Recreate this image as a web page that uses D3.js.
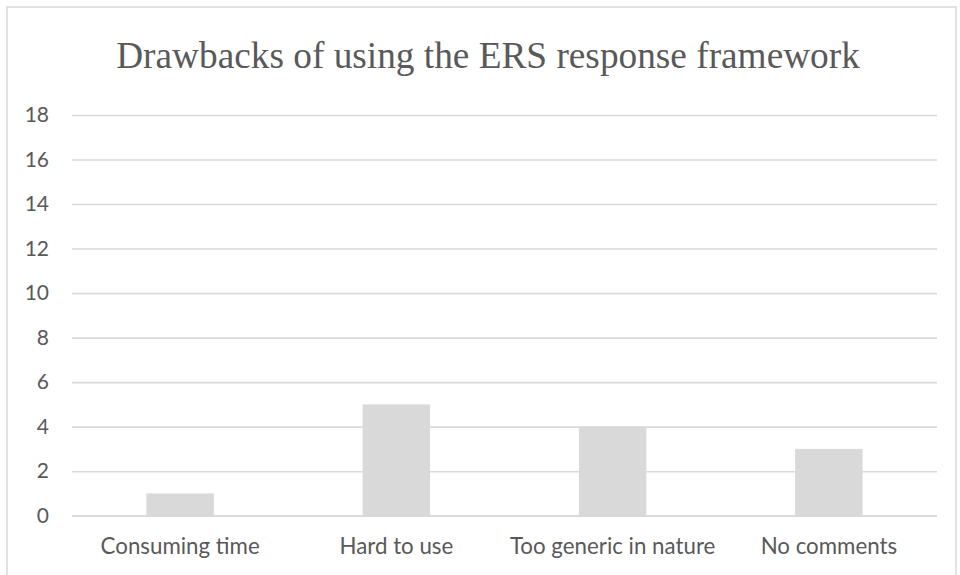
<!DOCTYPE html>
<html>
<head>
<meta charset="utf-8">
<script src="https://cdn.jsdelivr.net/npm/d3@7"></script>
<style>
  html, body { margin: 0; padding: 0; background: #fff; }
  svg { display: block; }
</style>
</head>
<body>
<svg id="chart" width="960" height="575"></svg>
<script>
// Survey responses: drawbacks reported for the ERS response framework
const categories = ["Consuming time", "Hard to use", "Too generic in nature", "No comments"];
const counts = [1, 5, 4, 3];
const yTicks = [0, 2, 4, 6, 8, 10, 12, 14, 16, 18];
const chartTitle = "Drawbacks of using the ERS response framework";

const width = 960, height = 575;
const margin = { top: 115, right: 23, bottom: 59.3, left: 72 };

const svg = d3.select("#chart");

// outer chart-area border (bottom edge runs off the canvas)
svg.append("rect")
  .attr("x", 7).attr("y", 7)
  .attr("width", 949).attr("height", 600)
  .attr("fill", "#fff")
  .attr("stroke", "#d9d9d9")
  .attr("stroke-width", 1.5);

const x = d3.scaleBand()
  .domain(categories)
  .range([margin.left, width - margin.right])
  .padding(0);

const y = d3.scaleLinear()
  .domain([0, 18])
  .range([height - margin.bottom, margin.top]);

// horizontal gridlines and value labels
const yAxis = d3.axisLeft(y)
  .tickValues(yTicks)
  .tickSize(-(width - margin.right - margin.left))
  .tickPadding(23);

const gy = svg.append("g")
  .attr("transform", `translate(${margin.left},0)`)
  .call(yAxis);
gy.select(".domain").remove();
gy.selectAll(".tick line")
  .attr("stroke", "#d9d9d9")
  .attr("stroke-width", 1.6);
gy.selectAll(".tick text")
  .attr("fill", "#595959")
  .style("font-family", "Lato, 'Open Sans', sans-serif")
  .style("font-size", "21px");

// bars
const barFrac = 0.312;
svg.append("g")
  .selectAll("rect")
  .data(categories)
  .join("rect")
  .attr("x", (d) => x(d) + x.bandwidth() * (1 - barFrac) / 2)
  .attr("width", x.bandwidth() * barFrac)
  .attr("y", (d, i) => y(counts[i]))
  .attr("height", (d, i) => y(0) - y(counts[i]))
  .attr("fill", "#d9d9d9");

// redraw baseline over bars
svg.append("line")
  .attr("x1", margin.left).attr("x2", width - margin.right)
  .attr("y1", y(0)).attr("y2", y(0))
  .attr("stroke", "#d9d9d9")
  .attr("stroke-width", 1.6);

// category labels
const xAxis = d3.axisBottom(x).tickSize(0).tickPadding(0);
const gx = svg.append("g")
  .attr("transform", `translate(0,${y(0)})`)
  .call(xAxis);
gx.select(".domain").remove();
gx.selectAll(".tick text")
  .attr("fill", "#595959")
  .attr("dy", null)
  .attr("y", 38)
  .style("font-family", "Lato, 'Open Sans', sans-serif")
  .style("font-size", "22.3px");

// title
svg.append("text")
  .attr("x", 488)
  .attr("y", 68)
  .attr("text-anchor", "middle")
  .attr("fill", "#595959")
  .style("font-family", "'Liberation Serif', 'Times New Roman', serif")
  .style("font-size", "37.3px")
  .text(chartTitle);
</script>
</body>
</html>
